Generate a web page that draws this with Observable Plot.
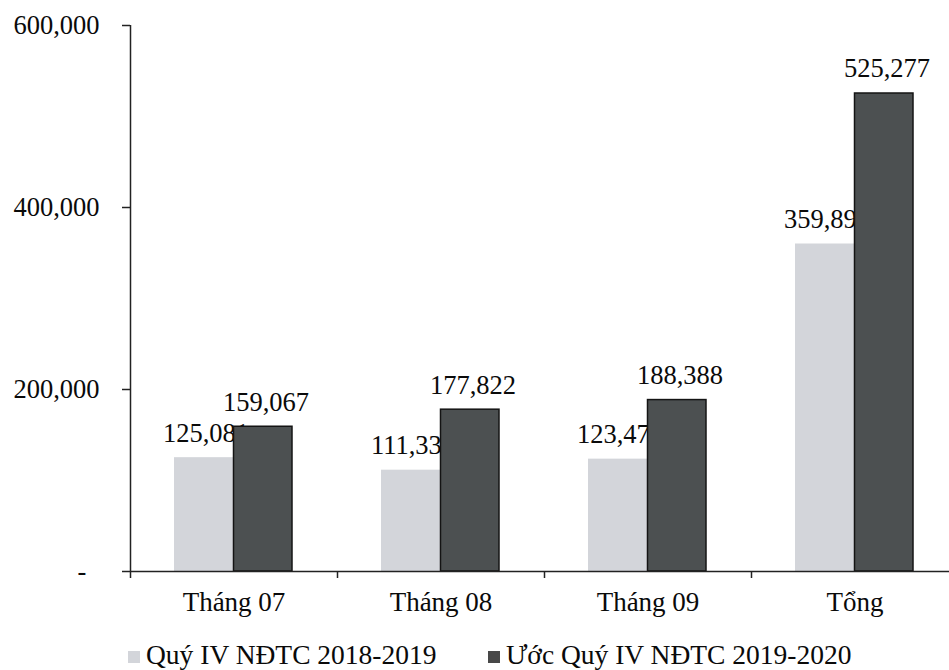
<!DOCTYPE html>
<html><head><meta charset="utf-8">
<script src="https://cdn.jsdelivr.net/npm/d3@7"></script>
<script src="https://cdn.jsdelivr.net/npm/@observablehq/plot@0.6"></script>
<style>
body{margin:0;background:#fff;font-family:"Liberation Serif","Times New Roman",serif;}
#wrap{position:relative;width:949px;height:670px;overflow:hidden;}
.legend{position:absolute;top:641px;font-size:27.5px;line-height:1;color:#0a0a0a;white-space:nowrap;}
.sw{display:inline-block;width:12px;height:12px;margin-right:6px;vertical-align:1px;}
</style></head><body>
<div id="wrap"><div id="chart"></div></div>
<script>
const categories = ["Tháng 07", "Tháng 08", "Tháng 09", "Tổng"];
const seriesNames = ["Quý IV NĐTC 2018-2019", "Ước Quý IV NĐTC 2019-2020"];
const values2018 = [125081, 111333, 123477, 359892];
const values2019 = [159067, 177822, 188388, 525277];
const yTicks = [0, 200000, 400000, 600000];

const lightFill = "#d3d5da";
const darkFill = "#4c5051";

const light = categories.map((c, i) => ({cat: c, value: values2018[i]}));
const dark = categories.map((c, i) => ({cat: c, value: values2019[i]}));
const fmt = d3.format(",");
const half = 103.5;

const chart = Plot.plot({
  width: 949,
  height: 630,
  marginLeft: 130,
  marginRight: 0,
  marginTop: 25,
  marginBottom: 59,
  x: {domain: categories, range: [130, 958], padding: 0},
  y: {domain: [0, 600000]},
  style: {fontFamily: "Liberation Serif, Times New Roman, serif", fontSize: "26px", color: "#0a0a0a", background: "#fff", overflow: "visible"},
  marks: [
    Plot.barY(light, {x: "cat", y: "value", fill: lightFill, insetLeft: 44, insetRight: 103.5}),
    Plot.text(light, {x: "cat", y: "value", text: d => fmt(d.value), dx: -28, dy: -16, lineAnchor: "bottom", fontSize: 26.5, fill: "#0a0a0a"}),
    Plot.barY(dark, {x: "cat", y: "value", fill: darkFill, stroke: "#141414", strokeWidth: 1.5, insetLeft: 103.5, insetRight: 45}),
    Plot.text(dark, {x: "cat", y: "value", text: d => fmt(d.value), dx: 32, dy: -16, lineAnchor: "bottom", fontSize: 26.5, fill: "#0a0a0a"}),
    Plot.ruleY([0], {stroke: "#222", strokeWidth: 1.5}),
    Plot.ruleX([categories[0]], {x: d => d, dx: -half, y1: 0, y2: 600000, stroke: "#222", strokeWidth: 1.5}),
    Plot.axisY({ticks: yTicks, tickSize: 8, tickPadding: 23, tickFormat: d => d === 0 ? "-\u2002" : fmt(d), fontSize: 26.5, stroke: "#222", strokeWidth: 1.5, fill: "#0a0a0a", label: null}),
    Plot.axisX({tickSize: 7, tickFormat: () => "", dx: -half, stroke: "#222", strokeWidth: 1.5, label: null}),
    Plot.axisX({tickSize: 0, tickPadding: 20, fontSize: 27, fill: "#0a0a0a", label: null})
  ]
});
document.getElementById("chart").appendChild(chart);

const legendPos = [128, 488];
const legendFill = [lightFill, "#484848"];
seriesNames.forEach((s, i) => {
  const div = document.createElement("div");
  div.className = "legend";
  div.style.left = legendPos[i] + "px";
  div.innerHTML = `<span class="sw" style="background:${legendFill[i]}"></span>${s}`;
  document.getElementById("wrap").appendChild(div);
});
</script>
</body></html>
